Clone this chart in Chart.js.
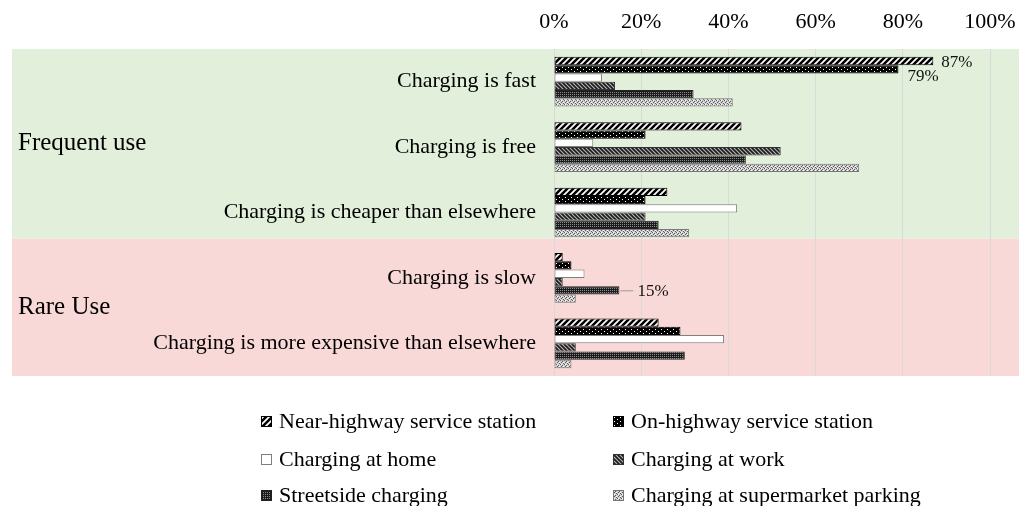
<!DOCTYPE html>
<html>
<head>
<meta charset="utf-8">
<script src="https://cdn.jsdelivr.net/npm/chart.js@4.4.0/dist/chart.umd.min.js"></script>
<style>
  body { margin: 0; background: #fff; }
  #wrap { position: relative; width: 1019px; height: 506px; }
  #legend { position: absolute; left: 0; top: 0; width: 1019px; height: 506px; pointer-events: none;
            font-family: "Liberation Serif", "Times New Roman", serif; font-size: 22px; color: #000; }
  .item { position: absolute; display: flex; align-items: center; white-space: nowrap; }
  .item canvas { width: 11px; height: 11px; margin-right: 7px; }
</style>
</head>
<body>
<div id="wrap">
  <canvas id="chart" width="1019" height="506"></canvas>
  <div id="legend"></div>
</div>
<script>
// data
const categories = ['Charging is fast', 'Charging is free', 'Charging is cheaper than elsewhere',
                    'Charging is slow', 'Charging is more expensive than elsewhere'];
const seriesNames = ['Near-highway service station', 'On-highway service station', 'Charging at home',
                     'Charging at work', 'Streetside charging', 'Charging at supermarket parking'];
const nearHighway = [87, 43, 26, 2, 24];
const onHighway   = [79, 21, 21, 4, 29];
const atHome      = [11, 9, 42, 7, 39];
const atWork      = [14, 52, 21, 2, 5];
const streetside  = [32, 44, 24, 15, 30];
const supermarket = [41, 70, 31, 5, 4];
const tickValues = [0, 20, 40, 60, 80, 100];
const groups = ['Frequent use', 'Rare Use'];
// which values get a label: [series, category]
const callouts = [[0, 0], [1, 0], [4, 3]];

const serif = '"Liberation Serif", "Times New Roman", serif';

// little tiles used as bar fills
function tile(w, h, draw) {
  const c = document.createElement('canvas');
  c.width = w; c.height = h;
  const g = c.getContext('2d');
  draw(g);
  return document.createElement('canvas').getContext('2d').createPattern(c, 'repeat');
}
function makeFills() {
  return [
    tile(6, 6, g => {
      g.fillStyle = '#fff'; g.fillRect(0, 0, 6, 6);
      g.strokeStyle = '#000'; g.lineWidth = 2.5;
      g.beginPath();
      g.moveTo(-1, 7); g.lineTo(7, -1);
      g.moveTo(-1, 1); g.lineTo(1, -1);
      g.moveTo(5, 7); g.lineTo(7, 5);
      g.stroke();
    }),
    tile(6, 4, g => {
      g.fillStyle = '#000'; g.fillRect(0, 0, 6, 4);
      g.fillStyle = '#fff'; g.fillRect(1, 1, 1, 1); g.fillRect(4, 3, 1, 1);
    }),
    '#ffffff',
    tile(4, 4, g => {
      g.fillStyle = '#b4b4b4'; g.fillRect(0, 0, 4, 4);
      g.strokeStyle = '#1a1a1a'; g.lineWidth = 1.6;
      g.beginPath();
      g.moveTo(-1, -1); g.lineTo(5, 5);
      g.moveTo(3, -1); g.lineTo(5, 1);
      g.moveTo(-1, 3); g.lineTo(1, 5);
      g.stroke();
    }),
    tile(2, 2, g => {
      g.fillStyle = '#1c1c1c'; g.fillRect(0, 0, 2, 2);
      g.fillStyle = '#8a8a8a'; g.fillRect(0, 0, 1, 1);
    }),
    tile(4, 4, g => {
      g.fillStyle = '#cfcfcf'; g.fillRect(0, 0, 4, 4);
      g.fillStyle = '#5a5a5a';
      g.fillRect(0, 0, 1, 1); g.fillRect(2, 1, 1, 1); g.fillRect(1, 2, 1, 1); g.fillRect(3, 3, 1, 1);
      g.fillStyle = '#fff';
      g.fillRect(1, 0, 1, 1); g.fillRect(3, 2, 1, 1);
    })
  ];
}
const fills = makeFills();
const borders = ['#000', '#000', '#7f7f7f', '#333', '#222', '#777'];
const values = [nearHighway, onHighway, atHome, atWork, streetside, supermarket];

const bands = {
  id: 'bands',
  beforeDraw(chart) {
    const { ctx, chartArea, scales: { y } } = chart;
    const split = y.getPixelForValue(2.4);
    ctx.save();
    ctx.fillStyle = '#e2efda';
    ctx.fillRect(12, chartArea.top, chart.width - 12, split - chartArea.top);
    ctx.fillStyle = '#f8d9d7';
    ctx.fillRect(12, split, chart.width - 12, chartArea.bottom - split);
    ctx.fillStyle = '#000';
    ctx.font = '25px ' + serif;
    ctx.textAlign = 'left';
    ctx.textBaseline = 'middle';
    ctx.fillText(groups[0], 18, (chartArea.top + split) / 2);
    ctx.fillText(groups[1], 18, (split + chartArea.bottom) / 2);
    ctx.restore();
  }
};

const labels = {
  id: 'valueLabels',
  afterDatasetsDraw(chart) {
    const ctx = chart.ctx;
    ctx.save();
    ctx.font = '17px ' + serif;
    ctx.fillStyle = '#111';
    ctx.textBaseline = 'middle';
    ctx.textAlign = 'left';
    callouts.forEach(([s, c], i) => {
      const el = chart.getDatasetMeta(s).data[c];
      const txt = values[s][c] + '%';
      if (i === 0) {
        ctx.fillText(txt, el.x + 8, el.y + 2);
      } else if (i === 1) {
        ctx.fillText(txt, el.x + 9, el.y + 7);
      } else {
        ctx.strokeStyle = '#999';
        ctx.lineWidth = 1;
        ctx.beginPath();
        ctx.moveTo(el.x + 1, el.y + 0.5);
        ctx.lineTo(el.x + 14, el.y + 0.5);
        ctx.stroke();
        ctx.fillText(txt, el.x + 18, el.y + 1);
      }
    });
    ctx.restore();
  }
};

new Chart(document.getElementById('chart'), {
  type: 'bar',
  data: {
    labels: categories,
    datasets: seriesNames.map((name, i) => ({
      label: name,
      data: values[i],
      backgroundColor: fills[i],
      borderColor: borders[i],
      borderWidth: 1,
      borderSkipped: false,
      barPercentage: 1,
      categoryPercentage: 0.76
    }))
  },
  options: {
    indexAxis: 'y',
    responsive: false,
    animation: false,
    layout: { padding: { top: 0, right: 29, bottom: 130, left: 0 } },
    plugins: { legend: { display: false }, tooltip: { enabled: false } },
    scales: {
      x: {
        position: 'top',
        min: 0, max: 100,
        afterBuildTicks: s => { s.ticks = tickValues.map(v => ({ value: v })); },
        afterFit: s => { s.height = 49; s.paddingLeft = 0; s.paddingRight = 0; },
        grid: { color: '#d9d9d9', drawTicks: false },
        border: { display: false },
        ticks: {
          padding: 14,
          color: '#000',
          font: { family: serif, size: 22 },
          callback: v => v + '%'
        }
      },
      y: {
        afterFit: s => { s.width = 554; },
        grid: { display: false, drawTicks: false },
        border: { display: false },
        ticks: {
          padding: 18,
          color: '#000',
          font: { family: serif, size: 22 }
        }
      }
    }
  },
  plugins: [bands, labels]
});

// legend, two columns
const legend = document.getElementById('legend');
const cols = [261, 613];
const rows = [421, 459, 495];
seriesNames.forEach((name, i) => {
  const d = document.createElement('div');
  d.className = 'item';
  d.style.left = cols[i % 2] + 'px';
  d.style.top = (rows[Math.floor(i / 2)] - 13) + 'px';
  d.style.height = '26px';
  const sw = document.createElement('canvas');
  sw.width = 11; sw.height = 11;
  const g = sw.getContext('2d');
  g.fillStyle = fills[i];
  g.fillRect(0, 0, 11, 11);
  g.strokeStyle = borders[i];
  g.lineWidth = 1;
  g.strokeRect(0.5, 0.5, 10, 10);
  d.appendChild(sw);
  const t = document.createElement('span');
  t.textContent = name;
  d.appendChild(t);
  legend.appendChild(d);
});
</script>
</body>
</html>
